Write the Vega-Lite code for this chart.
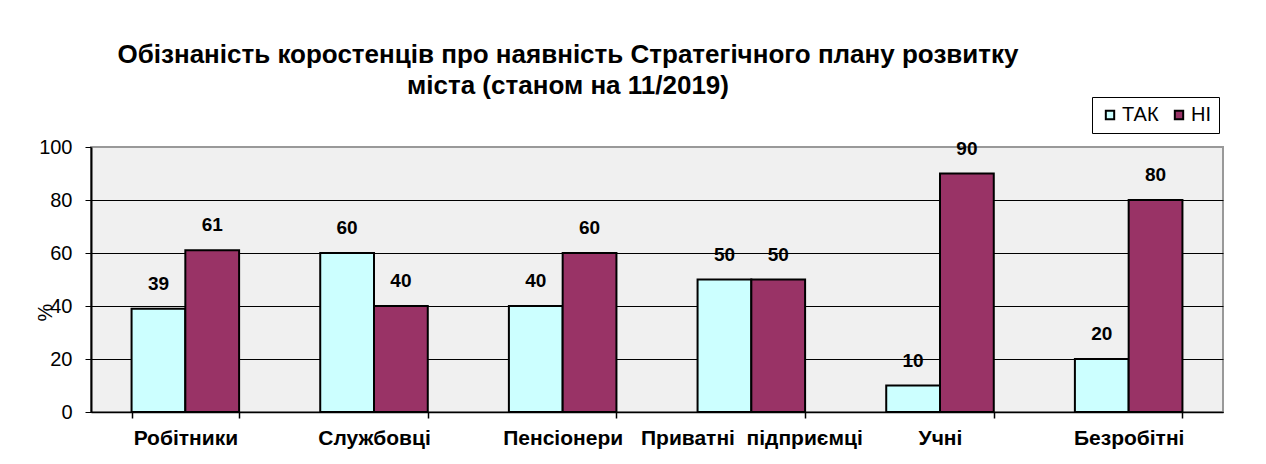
{
  "$schema": "https://vega.github.io/schema/vega-lite/v6.json",
  "autosize": {"type": "none"},
  "width": 1132,
  "height": 265,
  "padding": {"left": 91, "top": 147, "right": 43, "bottom": 52},
  "background": "white",
  "config": {
    "font": "Liberation Sans",
    "view": {"fill": "#f0f0f0", "stroke": "#999999", "strokeWidth": 2}
  },
  "title": {
    "text": ["Обізнаність коростенців про наявність Стратегічного плану розвитку", "міста (станом на 11/2019)"],
    "fontSize": 26,
    "fontWeight": "bold",
    "color": "black",
    "anchor": "middle",
    "frame": "group",
    "dx": -89,
    "lineHeight": 31,
    "offset": -2
  },
  "data": {
    "values": [
      {"category": "Робітники", "series": "ТАК", "value": 39},
      {"category": "Робітники", "series": "НІ", "value": 61},
      {"category": "Службовці", "series": "ТАК", "value": 60},
      {"category": "Службовці", "series": "НІ", "value": 40},
      {"category": "Пенсіонери", "series": "ТАК", "value": 40},
      {"category": "Пенсіонери", "series": "НІ", "value": 60},
      {"category": "Приватні\u00a0 підприємці", "series": "ТАК", "value": 50},
      {"category": "Приватні\u00a0 підприємці", "series": "НІ", "value": 50},
      {"category": "Учні", "series": "ТАК", "value": 10},
      {"category": "Учні", "series": "НІ", "value": 90},
      {"category": "Безробітні", "series": "ТАК", "value": 20},
      {"category": "Безробітні", "series": "НІ", "value": 80}
    ]
  },
  "encoding": {
    "x": {
      "field": "category",
      "type": "nominal",
      "sort": null,
      "scale": {"paddingInner": 0.43, "paddingOuter": 0.215},
      "axis": {
        "title": null,
        "labelAngle": 0,
        "labelFontSize": 21,
        "labelFontWeight": "bold",
        "labelColor": "black",
        "labelPadding": 9,
        "labelLimit": 0,
        "labelOverlap": false,
        "tickBand": "extent",
        "tickSize": 6,
        "tickColor": "black",
        "tickWidth": 1.5,
        "domainColor": "black",
        "domainWidth": 1.5
      }
    },
    "xOffset": {"field": "series", "type": "nominal", "sort": ["ТАК", "НІ"]},
    "y": {
      "field": "value",
      "type": "quantitative",
      "scale": {"domain": [0, 100]},
      "axis": {
        "values": [0, 20, 40, 60, 80, 100],
        "title": "%",
        "titleFontSize": 20,
        "titleFontWeight": "normal",
        "titleColor": "black",
        "titleX": -36,
        "titleY": 165,
        "labelFontSize": 20,
        "labelColor": "black",
        "labelPadding": 13,
        "tickSize": 6,
        "tickColor": "black",
        "domainColor": "black",
        "domainWidth": 2,
        "grid": true,
        "gridColor": {"condition": {"test": "datum.value == 100", "value": "#999999"}, "value": "black"},
        "gridWidth": 1,
        "gridOpacity": 1
      }
    }
  },
  "layer": [
    {
      "mark": {"type": "bar", "stroke": "black", "strokeWidth": 2},
      "encoding": {
        "color": {
          "field": "series",
          "type": "nominal",
          "sort": ["ТАК", "НІ"],
          "scale": {"domain": ["ТАК", "НІ"], "range": ["#ccffff", "#993366"]},
          "legend": {
            "title": null,
            "orient": "none",
            "legendX": 1001,
            "legendY": -50,
            "direction": "horizontal",
            "strokeColor": "black",
            "fillColor": "white",
            "padding": 8,
            "symbolType": "square",
            "symbolSize": 70,
            "symbolStrokeColor": "black",
            "symbolStrokeWidth": 2,
            "labelFontSize": 20,
            "labelColor": "black",
            "labelOffset": 2,
            "columnPadding": 10
          }
        }
      }
    },
    {
      "mark": {"type": "text", "dy": -15, "fontSize": 19, "fontWeight": "bold", "color": "black", "baseline": "bottom"},
      "encoding": {
        "text": {"field": "value", "type": "quantitative"}
      }
    }
  ]
}
